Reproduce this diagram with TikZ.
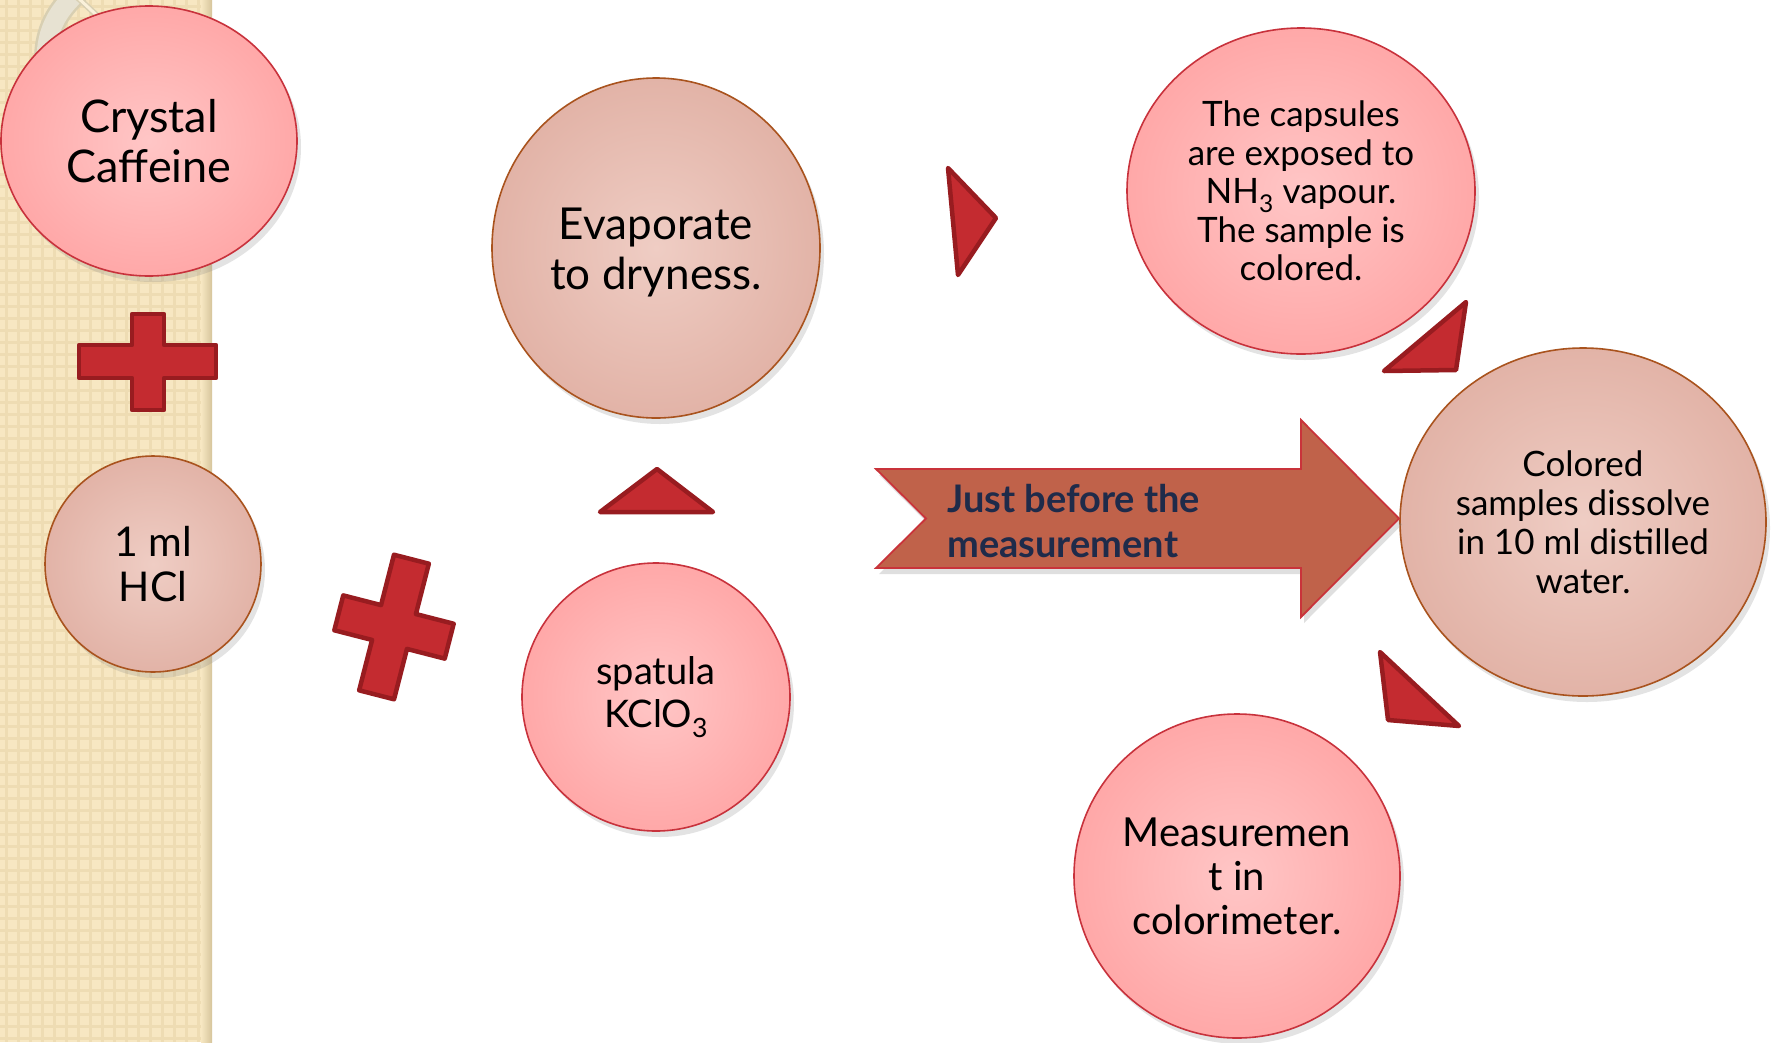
\documentclass[tikz,border=0pt]{standalone}
\usepackage{fontspec}
\setmainfont{Lato}
\usetikzlibrary{shapes.geometric,shadows}
\definecolor{pinkin}{HTML}{FFC6C6}
\definecolor{pinkout}{HTML}{FFA8A8}
\definecolor{pinkline}{HTML}{C8323C}
\definecolor{tanin}{HTML}{EFCDC4}
\definecolor{tanout}{HTML}{E2B3A7}
\definecolor{tanline}{HTML}{A9531E}
\definecolor{redfill}{HTML}{C42B30}
\definecolor{redline}{HTML}{981C20}
\definecolor{arrowfill}{HTML}{C0624A}
\definecolor{arrowline}{HTML}{C9333A}
\definecolor{navy}{HTML}{1F2B4A}
\definecolor{stripe}{HTML}{F7E7C2}
\definecolor{stripegrid}{HTML}{EEDCB3}
\definecolor{stripeedge}{HTML}{D6C59C}
\definecolor{ringout}{HTML}{D8CFB2}
\definecolor{ringin}{HTML}{E7E2D2}
\tikzset{
  bubble/.style={ellipse, inner sep=0pt, align=center, text=black, line width=1.6pt,
    drop shadow={opacity=0.22, shadow xshift=4pt, shadow yshift=-6pt}},
  pinkc/.style={bubble, draw=pinkline, inner color=pinkin, outer color=pinkout},
  tanc/.style={bubble, draw=tanline, inner color=tanin, outer color=tanout},
  redshape/.style={fill=redfill, draw=redline, line width=4.5pt, line join=round},
  arrowshape/.style={fill=arrowfill, draw=arrowline, line width=1.8pt,
    drop shadow={opacity=0.25, shadow xshift=3pt, shadow yshift=-6pt}},
}
\begin{document}
\begin{tikzpicture}[x=1pt,y=-1pt]
\useasboundingbox (0,0) rectangle (1774,1042);
\fill[white] (0,0) rectangle (1774,1042);
% patterned stripe
\fill[stripe] (0,0) rectangle (212,1042);
\foreach \i in {6,18,...,210} \draw[stripegrid, line width=3pt] (\i,0) -- (\i,1042);
\foreach \j in {6,18,...,1040} \draw[stripegrid, line width=3pt] (0,\j) -- (212,\j);
\shade[left color=stripe, right color=stripeedge] (201,0) rectangle (212,1042);
% ring at top left
\draw[ringout, line width=24pt] (46,60) .. controls (46,30) and (58,10) .. (78,-8);
\draw[ringin, line width=19pt] (46,60) .. controls (46,30) and (58,10) .. (78,-8);
\draw[ringout, line width=6pt] (76,-4) -- (104,22);
\draw[stripe!60!white, line width=3pt] (76,-4) -- (104,22);
% bubbles
\node[pinkc, minimum width=296pt, minimum height=270pt, font={\fontsize{45}{50}\selectfont}] (cc) at (149,141)
  {Crystal\\Caffeine};
\node[tanc, minimum width=216pt, minimum height=216pt, font={\fontsize{41}{45}\selectfont}] (hcl) at (153,564)
  {1 ml\\HCl};
\node[tanc, minimum width=328pt, minimum height=340pt] (evap) at (656,248) {};
\node[align=center, inner sep=0pt, font={\fontsize{44}{50}\selectfont}] (evaptext) at (656,253)
  {Evaporate\\to dryness.};
\node[pinkc, minimum width=268pt, minimum height=268pt, font={\fontsize{38}{43}\selectfont}] (kclo) at (656,697)
  {spatula\\KClO\textsubscript{3}};
\node[pinkc, minimum width=348pt, minimum height=326pt, font={\fontsize{35}{38.5}\selectfont}] (caps) at (1301,191)
  {The capsules\\are exposed to\\NH\textsubscript{3} vapour.\\The sample is\\colored.};
\node[tanc, minimum width=366pt, minimum height=348pt, font={\fontsize{35}{39}\selectfont}] (col) at (1583,522)
  {Colored\\samples dissolve\\in 10 ml distilled\\water.};
\node[pinkc, minimum width=326pt, minimum height=324pt, font={\fontsize{40}{44}\selectfont}] (meas) at (1237,876)
  {Measuremen\\t in\\colorimeter.};
% plus signs
\path[redshape] (132,314) -- (164,314) -- (164,345) -- (216,345) -- (216,378) -- (164,378)
  -- (164,410) -- (132,410) -- (132,378) -- (79,378) -- (79,345) -- (132,345) -- cycle;
\begin{scope}[shift={(394,627)}, rotate=-14.4]
\path[redshape] (-18,-70) -- (18,-70) -- (18,-18) -- (57,-18) -- (57,18) -- (18,18)
  -- (18,70) -- (-18,70) -- (-18,18) -- (-57,18) -- (-57,-18) -- (-18,-18) -- cycle;
\end{scope}
% triangles
\path[redshape] (657,469) -- (713,512) -- (600,512) -- cycle;
\path[redshape] (948,168) -- (996,218) -- (958,275) -- cycle;
\path[redshape] (1466,302) -- (1456,370) -- (1384,371) -- cycle;
\path[redshape] (1380,652) -- (1459,726) -- (1388,720) -- cycle;
% big arrow
\path[arrowshape] (876,469) -- (1301,469) -- (1301,420) -- (1399,518.5) -- (1301,617)
  -- (1301,568) -- (876,568) -- (926,518.5) -- cycle;
\node[anchor=west, align=left, text=navy, inner sep=0pt, font={\fontsize{38}{45}\selectfont\bfseries}] (arrowtext) at (947,521)
  {Just before the\\measurement};
\end{tikzpicture}
\end{document}
